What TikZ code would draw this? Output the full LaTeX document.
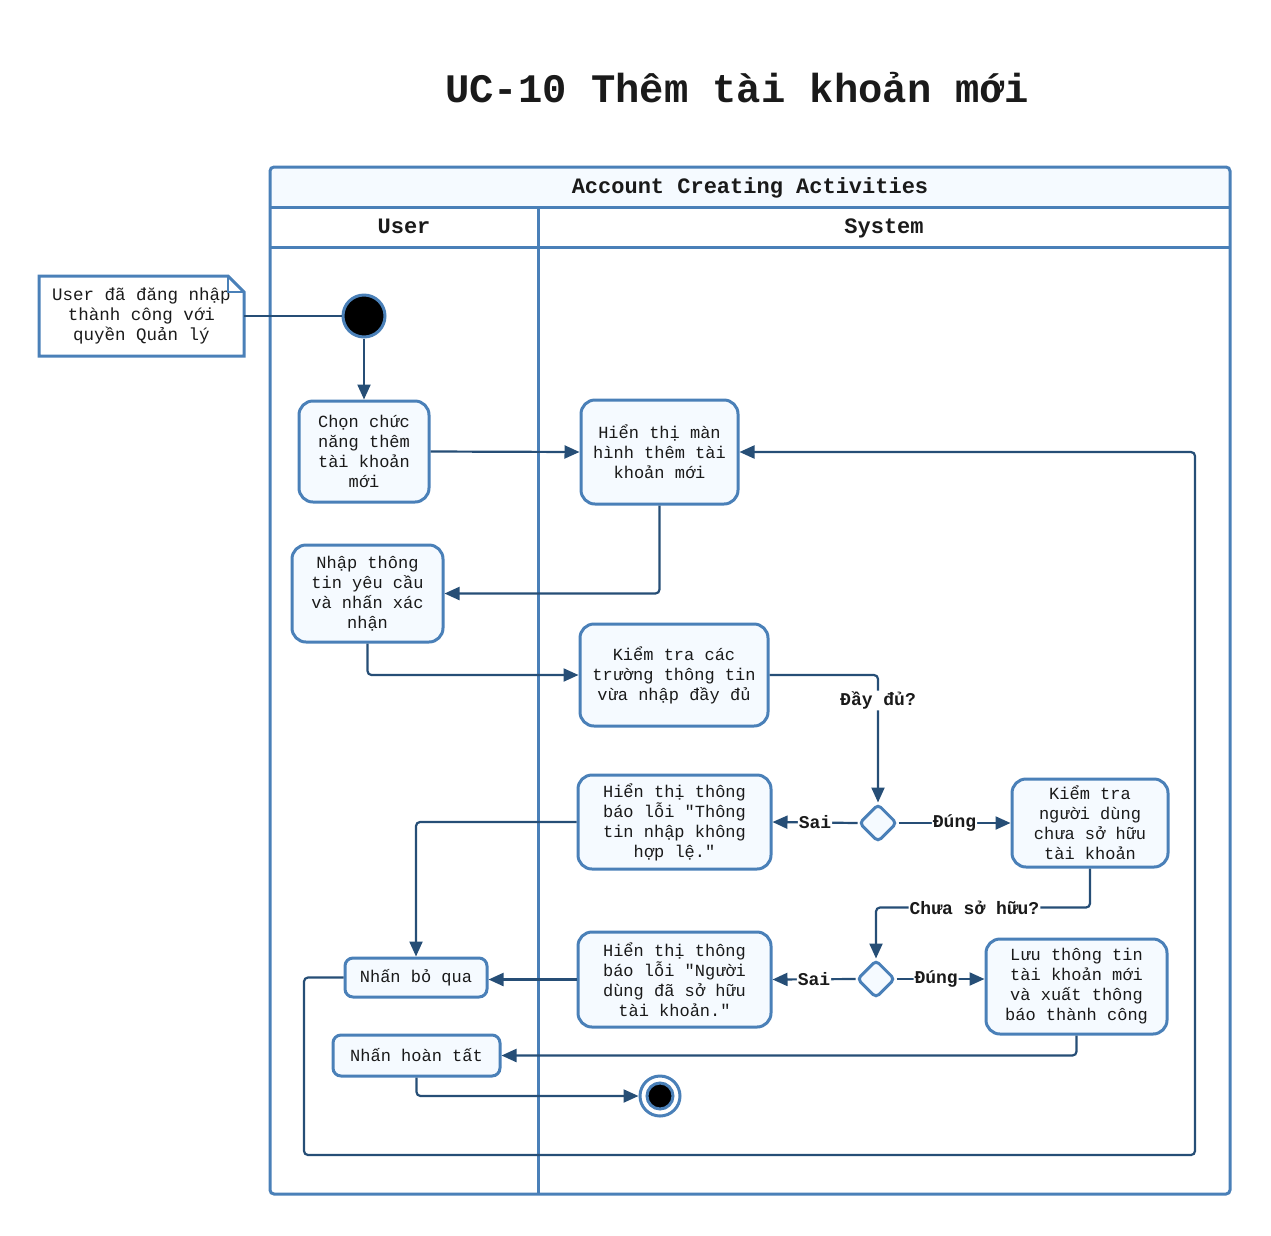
\documentclass[tikz,border=0pt]{standalone}
\usepackage{fontspec}
\usetikzlibrary{arrows.meta,shapes.geometric}
\newfontfamily\mono{Liberation Mono}
\definecolor{boxc}{RGB}{74,128,184}
\definecolor{linec}{RGB}{38,78,118}
\definecolor{boxf}{RGB}{245,250,255}
\definecolor{textc}{RGB}{26,26,26}
\tikzset{
  act/.style={draw=boxc, line width=3pt, fill=boxf, rounded corners=14pt, align=center,
    font=\mono\fontsize{17}{20}\selectfont, text=textc, inner sep=0pt},
  conn/.style={draw=linec, line width=2.2pt, rounded corners=4pt},
  arr/.style={conn, -{Triangle[length=15pt,width=13pt]}},
  lbl/.style={font=\mono\bfseries\fontsize{18}{20}\selectfont, fill=white, inner sep=1pt, text=textc},
  hdr/.style={font=\mono\bfseries\fontsize{22}{24}\selectfont, text=textc, anchor=base},
  decis/.style={diamond, draw=boxc, line width=3pt, fill=boxf, minimum width=38pt, minimum height=38pt, inner sep=0pt, rounded corners=4pt},
  pool/.style={draw=boxc, line width=3pt}
}
\begin{document}
\begin{tikzpicture}[x=1pt,y=-1pt]
\useasboundingbox (0,0) rectangle (1271,1235);
% title
\node[font=\mono\bfseries\fontsize{40.5}{44}\selectfont, text=textc] (title) at (737,88) {UC-10 Thêm tài khoản mới};
% pool
\fill[boxf, rounded corners=4pt] (270,167) -- (1230,167) -- (1230,207) -- (270,207) -- cycle;
\draw[pool, rounded corners=4pt] (270,167) rectangle (1230,1194);
\draw[pool] (270,207) -- (1230,207);
\draw[pool] (270,247) -- (1230,247);
\draw[pool] (538,207) -- (538,1194);
\node[hdr] (pooltitle) at (750,193) {Account Creating Activities};
\node[hdr] (laneuser) at (404,233) {User};
\node[hdr] (lanesys) at (884,233) {System};
% note
\node[font=\mono\fontsize{17.5}{20}\selectfont, text=textc, align=center, minimum width=205pt, minimum height=80pt, inner sep=0pt] (note) at (141.5,316) {User đã đăng nhập\\thành công với\\quyền Quản lý};
\draw[draw=boxc, line width=3pt] (39,276) -- (228,276) -- (244,292) -- (244,356) -- (39,356) -- cycle;
\draw[draw=boxc, line width=2.2pt] (228,276) -- (228,292) -- (244,292);
% start / end
\node[circle, fill=black, draw=boxc, line width=3pt, minimum size=42pt, inner sep=0pt] (start) at (364,316) {};
\node[circle, fill=white, draw=boxc, line width=3pt, minimum size=40pt, inner sep=0pt] (end) at (660,1096) {};
\node[circle, fill=black, draw=boxc, line width=3pt, minimum size=26pt, inner sep=0pt] (endin) at (660,1096) {};
% activities
\node[act, minimum width=130pt, minimum height=101pt] (chon) at (364,451.5) {Chọn chức\\năng thêm\\tài khoản\\mới};
\node[act, minimum width=157pt, minimum height=104pt] (hien) at (659.5,452) {Hiển thị màn\\hình thêm tài\\khoản mới};
\node[act, minimum width=151pt, minimum height=97pt] (nhap) at (367.5,593.5) {Nhập thông\\tin yêu cầu\\và nhấn xác\\nhận};
\node[act, minimum width=188pt, minimum height=102pt] (kiem) at (674,675) {Kiểm tra các\\trường thông tin\\vừa nhập đầy đủ};
\node[act, minimum width=193pt, minimum height=94pt] (err1) at (674.5,822) {Hiển thị thông\\báo lỗi "Thông\\tin nhập không\\hợp lệ."};
\node[act, minimum width=156pt, minimum height=88pt] (kt) at (1090,823) {Kiểm tra\\người dùng\\chưa sở hữu\\tài khoản};
\node[act, minimum width=193pt, minimum height=95pt] (err2) at (674.5,979.5) {Hiển thị thông\\báo lỗi "Người\\dùng đã sở hữu\\tài khoản."};
\node[act, minimum width=181pt, minimum height=95pt] (luu) at (1076.5,986.5) {Lưu thông tin\\tài khoản mới\\và xuất thông\\báo thành công};
\node[act, minimum width=142pt, minimum height=39pt, rounded corners=8pt] (bo) at (416,977.5) {Nhấn bỏ qua};
\node[act, minimum width=167pt, minimum height=41pt, rounded corners=8pt] (ht) at (416.5,1055.5) {Nhấn hoàn tất};
\node[decis] (d1) at (878,823) {};
\node[decis] (d2) at (876,979) {};
% connectors
\draw[conn] (note.east) -- (start.west);
\draw[arr] (start.south) -- (chon.north);
\draw[arr] (chon.east) -- (hien.west);
\draw[arr] (hien.south) |- (nhap.east);
\draw[arr] (nhap.south) |- (kiem.west);
\draw[arr] (kiem.east) -| node[lbl, pos=0.6] {Đầy đủ?} (d1.north);
\draw[arr] (d1.west) -- node[lbl] {Sai} (err1.east);
\draw[arr] (d1.east) -- node[lbl] {Đúng} (kt.west);
\draw[arr] (kt.south) -- ++(0,39) -| node[lbl, pos=0.27] {Chưa sở hữu?} (d2.north);
\draw[arr] (d2.west) -- node[lbl] {Sai} (err2.east);
\draw[arr] (d2.east) -- node[lbl, pos=0.45] {Đúng} (d2.east -| luu.west);
\draw[arr] (err1.west) -| (bo.north);
\draw[arr] (err2.west) -- (err2.west -| bo.east);
\draw[arr] (luu.south) |- (ht.east);
\draw[arr] (ht.south) |- (end.west);
\coordinate (lp1) at (304,1155);
\coordinate (lp2) at (1195,1155);
\draw[arr] (bo.west) -| (lp1) -- (lp2) |- (hien.east);
\end{tikzpicture}
\end{document}
